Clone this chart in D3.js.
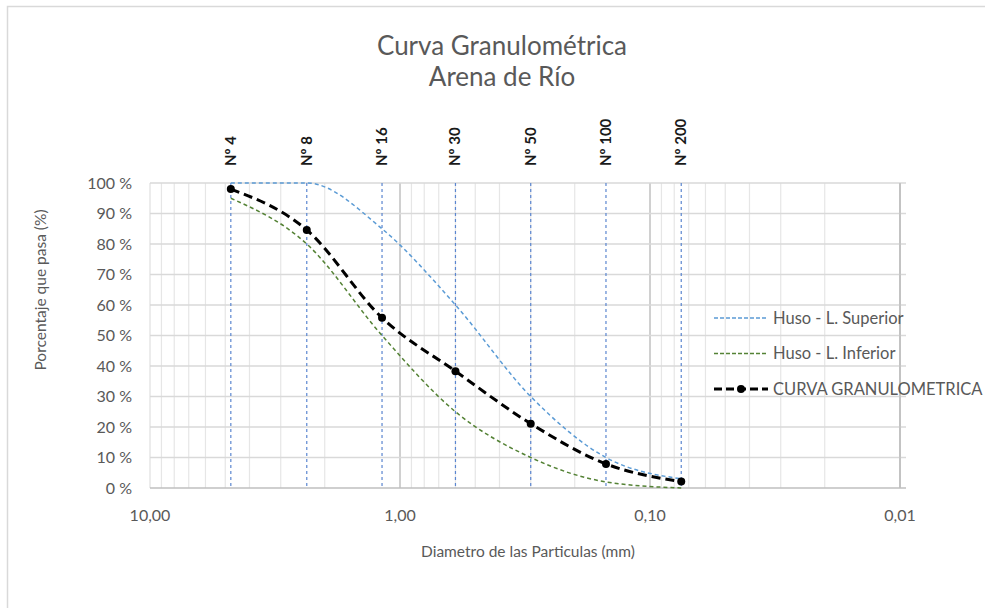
<!DOCTYPE html>
<html>
<head>
<meta charset="utf-8">
<script src="https://cdn.jsdelivr.net/npm/d3@7.8.5/dist/d3.min.js"></script>
<style>
  html, body { margin: 0; padding: 0; background: #fff; }
  svg { display: block; font-family: Lato, "Open Sans", sans-serif; }
</style>
</head>
<body>
<div id="chart"></div>
<script>
// Tamices y diametros (mm)
const SIEVES = ["Nº 4", "Nº 8", "Nº 16", "Nº 30", "Nº 50", "Nº 100", "Nº 200"];
const DIAMETERS = [4.75, 2.36, 1.18, 0.6, 0.3, 0.15, 0.075];

// % que pasa
const UPPER = [100, 100, 85, 60, 30, 10, 3];
const LOWER = [95, 80, 50, 25, 10, 2, 0];
const CURVE = [98, 84.6, 55.8, 38.3, 21.1, 7.9, 2.1];

const X_TICKS = [10, 1, 0.1, 0.01];
const Y_TICKS = [0, 10, 20, 30, 40, 50, 60, 70, 80, 90, 100];

const W = 985, H = 608;
const PLOT = { left: 150, right: 900, top: 183, bottom: 488 };

const TEXT = "#595959";
const GRID = "#d9d9d9";

const svg = d3.select("#chart").append("svg")
  .attr("width", W).attr("height", H);

// chart border
svg.append("rect")
  .attr("x", 7.5).attr("y", 6.5)
  .attr("width", W + 20).attr("height", H + 20)
  .attr("fill", "none").attr("stroke", GRID).attr("stroke-width", 1.5);

// ── Scales ────────────────────────────────────────────────────────────────
const x = d3.scaleLog().domain([10, 0.01]).range([PLOT.left, PLOT.right]);
const y = d3.scaleLinear().domain([0, 100]).range([PLOT.bottom, PLOT.top]);

// ── Grid ──────────────────────────────────────────────────────────────────
const minor = [];
[10, 1, 0.1].forEach((dec) => {
  for (let k = 2; k <= 9; k++) minor.push((dec / 10) * k);
});

svg.append("g").selectAll("line").data(minor).join("line")
  .attr("x1", (d) => x(d)).attr("x2", (d) => x(d))
  .attr("y1", PLOT.top).attr("y2", PLOT.bottom)
  .attr("stroke", "#e6e6e6").attr("stroke-width", 1.2);

svg.append("g").selectAll("line").data(X_TICKS).join("line")
  .attr("x1", (d) => x(d)).attr("x2", (d) => x(d))
  .attr("y1", PLOT.top).attr("y2", PLOT.bottom)
  .attr("stroke", (d) => (d === 10 ? GRID : "#d0d0d0"))
  .attr("stroke-width", (d) => (d === 10 ? 1 : 2));

svg.append("g").selectAll("line").data(Y_TICKS).join("line")
  .attr("x1", PLOT.left).attr("x2", PLOT.right + 6)
  .attr("y1", (d) => y(d)).attr("y2", (d) => y(d))
  .attr("stroke", (d) => (d === 0 ? "#bfbfbf" : GRID))
  .attr("stroke-width", 1.5);

// right edge of plot
svg.append("line")
  .attr("x1", PLOT.right).attr("x2", PLOT.right)
  .attr("y1", PLOT.top).attr("y2", PLOT.bottom)
  .attr("stroke", "#bfbfbf").attr("stroke-width", 1.5);

// ── Sieve lines + labels ──────────────────────────────────────────────────
svg.append("g").selectAll("line").data(DIAMETERS).join("line")
  .attr("x1", (d) => x(d)).attr("x2", (d) => x(d))
  .attr("y1", PLOT.top).attr("y2", PLOT.bottom)
  .attr("stroke", "#5b86d0").attr("stroke-width", 1.2)
  .attr("stroke-dasharray", "3,3");

svg.append("g").selectAll("text").data(SIEVES).join("text")
  .attr("transform", (d, i) => `translate(${x(DIAMETERS[i]) + 5},166) rotate(-90)`)
  .style("font-size", "15px").style("font-weight", "700").style("fill", "#1a1a1a")
  .text((d) => d);

// ── Axis labels ───────────────────────────────────────────────────────────
svg.append("g").selectAll("text").data(Y_TICKS).join("text")
  .attr("x", 132).attr("y", (d) => y(d) + 5.5)
  .attr("text-anchor", "end")
  .style("font-size", "16px").style("fill", TEXT)
  .text((d) => d + " %");

svg.append("g").selectAll("text").data(X_TICKS).join("text")
  .attr("x", (d) => x(d)).attr("y", 521)
  .attr("text-anchor", "middle")
  .style("font-size", "16px").style("fill", TEXT)
  .text((d) => d.toFixed(2).replace(".", ","));

svg.append("text")
  .attr("x", (PLOT.left + PLOT.right) / 2 + 3).attr("y", 557)
  .attr("text-anchor", "middle")
  .style("font-size", "15.5px").style("fill", TEXT)
  .text("Diametro de las Particulas (mm)");

svg.append("text")
  .attr("transform", "translate(46,290) rotate(-90)")
  .attr("text-anchor", "middle")
  .style("font-size", "15.5px").style("fill", TEXT)
  .text("Porcentaje que pasa (%)");

// ── Title ─────────────────────────────────────────────────────────────────
svg.append("text")
  .attr("x", 502).attr("y", 55).attr("text-anchor", "middle")
  .style("font-size", "26px").style("fill", TEXT)
  .text("Curva Granulométrica");
svg.append("text")
  .attr("x", 502).attr("y", 86).attr("text-anchor", "middle")
  .style("font-size", "26px").style("fill", TEXT)
  .text("Arena de Río");

// ── Series ────────────────────────────────────────────────────────────────
const series = [
  { name: "Huso - L. Superior", values: UPPER, color: "#5b9bd5", width: 1.5, dash: "4,3", marker: false },
  { name: "Huso - L. Inferior", values: LOWER, color: "#548235", width: 1.5, dash: "4,3", marker: false },
  { name: "CURVA GRANULOMETRICA", values: CURVE, color: "#000", width: 3, dash: "9,5", marker: true },
];

// monotone keeps the upper limit flat at 100 % between Nº 4 and Nº 8
const line = d3.line()
  .x((d) => x(d[0])).y((d) => y(d[1]))
  .curve(d3.curveMonotoneX);

series.forEach((s) => {
  const pts = DIAMETERS.map((d, i) => [d, s.values[i]]);
  svg.append("path")
    .attr("d", line(pts))
    .attr("fill", "none")
    .attr("stroke", s.color)
    .attr("stroke-width", s.width)
    .attr("stroke-dasharray", s.dash);
  if (s.marker) {
    svg.append("g").selectAll("circle").data(pts).join("circle")
      .attr("cx", (d) => x(d[0])).attr("cy", (d) => y(d[1]))
      .attr("r", 4).attr("fill", s.color);
  }
});

// ── Legend ────────────────────────────────────────────────────────────────
const legend = svg.append("g").attr("transform", "translate(714,318)");
series.forEach((s, i) => {
  const g = legend.append("g").attr("transform", `translate(0,${i * 35.5})`);
  g.append("line")
    .attr("x1", 0).attr("x2", 54)
    .attr("stroke", s.color).attr("stroke-width", s.width)
    .attr("stroke-dasharray", s.marker ? "8,4" : "4,2");
  if (s.marker) g.append("circle").attr("cx", 27).attr("r", 4).attr("fill", s.color);
  g.append("text")
    .attr("x", 59).attr("y", 5.5)
    .style("font-size", "16.5px").style("fill", TEXT)
    .text(s.name);
});
</script>
</body>
</html>
